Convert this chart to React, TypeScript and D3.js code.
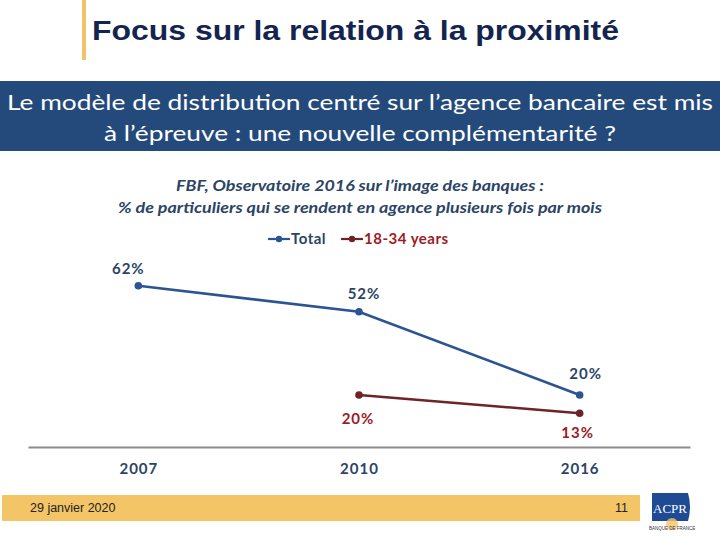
import React, { useEffect, useRef } from "react";
import * as d3 from "d3";

const years = ["2007", "2010", "2016"];
const totalValues = [62, 52, 20];
const youngValues = [null, 20, 13];
const seriesNames = ["Total", "18-34 years"];

const BLUE = "#2a5592";
const BLUE_TEXT = "#2b4466";
const RED_LINE = "#6e2326";
const RED_TEXT = "#9c1c22";

export default function App() {
  const ref = useRef(null);

  useEffect(() => {
    const svg = d3.select(ref.current);
    svg.selectAll("*").remove();

    // titre + barre jaune
    svg.append("rect").attr("x", 82).attr("y", 0).attr("width", 4).attr("height", 60).attr("fill", "#f2c36b");
    svg.append("text")
      .attr("x", 92).attr("y", 40)
      .attr("font-family", "Liberation Sans, Arial, sans-serif")
      .attr("font-weight", "bold").attr("font-size", 27)
      .attr("fill", "#13254f")
      .attr("textLength", 527)
      .attr("lengthAdjust", "spacingAndGlyphs")
      .text("Focus sur la relation à la proximité");

    // bandeau bleu
    svg.append("rect").attr("x", 0).attr("y", 81).attr("width", 720).attr("height", 70).attr("fill", "#244a7c");
    const bannerLines = [
      { t: "Le modèle de distribution centré sur l’agence bancaire est mis", y: 110, len: 706 },
      { t: "à l’épreuve : une nouvelle complémentarité ?", y: 141, len: 512 },
    ];
    bannerLines.forEach((l) => {
      svg.append("text")
        .attr("x", 360).attr("y", l.y)
        .attr("text-anchor", "middle")
        .attr("font-family", "Lato, sans-serif")
        .attr("font-size", 21.5)
        .attr("fill", "white")
        .attr("textLength", l.len)
        .attr("lengthAdjust", "spacingAndGlyphs")
        .text(l.t);
    });

    // sous-titre
    const sub = [
      { t: "FBF, Observatoire 2016 sur l’image des banques :", y: 191, len: 368 },
      { t: "% de particuliers qui se rendent en agence plusieurs fois par mois", y: 213, len: 484 },
    ];
    sub.forEach((s) => {
      svg.append("text")
        .attr("x", 360).attr("y", s.y)
        .attr("text-anchor", "middle")
        .attr("font-family", "Lato, sans-serif")
        .attr("font-style", "italic").attr("font-weight", "bold")
        .attr("font-size", 15)
        .attr("fill", "#2b4466")
        .attr("textLength", s.len)
        .attr("lengthAdjust", "spacingAndGlyphs")
        .text(s.t);
    });

    // échelles
    const x = d3.scalePoint().domain(years).range([28, 690]).padding(0.5);
    const y = d3.scaleLinear().domain([0, 70]).range([447, 265]);

    // axe X
    const xAxis = svg.append("g").attr("transform", "translate(0,447)")
      .call(d3.axisBottom(x).tickSize(0).tickPadding(16));
    xAxis.select(".domain").attr("stroke", "#8c8c8c").attr("stroke-width", 2);
    xAxis.selectAll("text")
      .attr("font-family", "Lato, sans-serif")
      .attr("font-weight", "bold").attr("font-size", 15)
      .attr("letter-spacing", 1)
      .attr("fill", BLUE_TEXT);

    const line = d3.line()
      .defined((d) => d[1] != null)
      .x((d) => x(d[0]))
      .y((d) => y(d[1]));

    const series = [
      { name: seriesNames[0], values: totalValues, stroke: BLUE, dot: BLUE, text: BLUE_TEXT, dy: [-12, -13, -16], dx: [-10, 5, 6] },
      { name: seriesNames[1], values: youngValues, stroke: RED_LINE, dot: RED_LINE, text: RED_TEXT, dy: [0, 29, 25], dx: [0, -1, -2] },
    ];

    series.forEach((s) => {
      const pts = years.map((yr, i) => [yr, s.values[i]]);
      svg.append("path")
        .datum(pts)
        .attr("fill", "none")
        .attr("stroke", s.stroke)
        .attr("stroke-width", 2.6)
        .attr("d", line);
      const valid = pts.filter((p) => p[1] != null);
      svg.selectAll(null).data(valid).join("circle")
        .attr("cx", (d) => x(d[0]))
        .attr("cy", (d) => y(d[1]))
        .attr("r", 3.8)
        .attr("fill", s.dot);
      svg.selectAll(null).data(valid).join("text")
        .attr("x", (d) => x(d[0]) + s.dx[years.indexOf(d[0])])
        .attr("y", (d) => y(d[1]) + s.dy[years.indexOf(d[0])])
        .attr("text-anchor", "middle")
        .attr("font-family", "Lato, sans-serif")
        .attr("font-weight", "bold").attr("font-size", 15)
        .attr("letter-spacing", 1)
        .attr("fill", s.text)
        .text((d) => d[1] + "%");
    });

    // légende
    const legend = [
      { name: seriesNames[0], x: 268, color: BLUE, text: BLUE_TEXT },
      { name: seriesNames[1], x: 341, color: RED_LINE, text: RED_TEXT },
    ];
    legend.forEach((l) => {
      svg.append("line")
        .attr("x1", l.x).attr("x2", l.x + 22)
        .attr("y1", 239).attr("y2", 239)
        .attr("stroke", l.color).attr("stroke-width", 2.2);
      svg.append("circle").attr("cx", l.x + 11).attr("cy", 239).attr("r", 3.2).attr("fill", l.color);
      svg.append("text")
        .attr("x", l.x + 23).attr("y", 244)
        .attr("font-family", "Lato, sans-serif")
        .attr("font-weight", "bold").attr("font-size", 15)
        .attr("letter-spacing", 0.5)
        .attr("fill", l.text)
        .text(l.name);
    });

    // pied de page
    svg.append("rect").attr("x", 2).attr("y", 495).attr("width", 638).attr("height", 26).attr("fill", "#f4c566");
    svg.append("text")
      .attr("x", 30).attr("y", 512)
      .attr("font-family", "Liberation Sans Narrow, Arial, sans-serif")
      .attr("font-size", 12.5).attr("fill", "#222")
      .text("29 janvier 2020");
    svg.append("text")
      .attr("x", 628).attr("y", 512)
      .attr("text-anchor", "end")
      .attr("font-family", "Liberation Sans Narrow, Arial, sans-serif")
      .attr("font-size", 12.5).attr("fill", "#222")
      .text("11");

    // logo ACPR
    const logo = svg.append("g").attr("transform", "translate(652,493)");
    logo.append("path").attr("d", "M0,0 H36 Q40,14 36,28 H0 Z").attr("fill", "#1f4b95");
    logo.append("text")
      .attr("x", 18).attr("y", 20).attr("text-anchor", "middle")
      .attr("font-family", "Liberation Serif, serif")
      .attr("font-size", 13).attr("fill", "white")
      .text("ACPR");
    logo.append("circle").attr("cx", 20).attr("cy", 31).attr("r", 6).attr("fill", "#f4c566").attr("opacity", 0.8);
    logo.append("text")
      .attr("x", 20).attr("y", 37).attr("text-anchor", "middle")
      .attr("font-family", "Liberation Sans, sans-serif")
      .attr("font-size", 4.5).attr("fill", "#333")
      .text("BANQUE DE FRANCE");
  }, []);

  return <svg ref={ref} width={720} height={540} style={{ position: "absolute", left: 0, top: 0, background: "white" }} />;
}
